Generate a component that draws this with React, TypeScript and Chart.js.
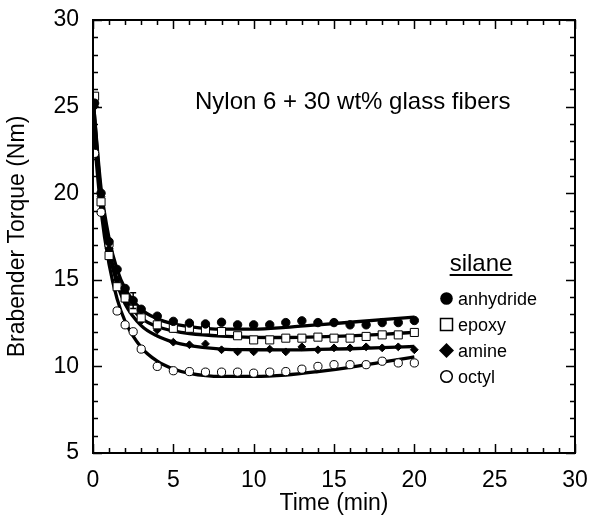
import React, { useEffect, useRef } from "react";
import { Chart, registerables } from "chart.js";
Chart.register(...registerables);

// measured points (time in min, torque in Nm)
const time = [0.1, 0.5, 1, 1.5, 2, 2.5, 3, 4, 5, 6, 7, 8, 9, 10, 11, 12, 13, 14, 15, 16, 17, 18, 19, 20];
const anhydride = [25.2, 20.0, 17.2, 15.6, 14.5, 13.8, 13.3, 12.9, 12.6, 12.5, 12.45, 12.55, 12.4, 12.4, 12.4, 12.53, 12.63, 12.53, 12.53, 12.4, 12.4, 12.53, 12.53, 12.65];
const anhydrideErr = [0, 0, 0, 0, 0, 0.45, 0, 0, 0, 0, 0, 0, 0, 0, 0, 0, 0, 0, 0, 0, 0, 0, 0, 0];
const epoxy = [25.6, 19.5, 16.4, 14.6, 13.95, 13.3, 12.8, 12.4, 12.2, 12.2, 12.11, 12.01, 11.77, 11.53, 11.53, 11.63, 11.63, 11.69, 11.63, 11.63, 11.73, 11.82, 11.82, 11.96];
const amine = [25.0, 19.8, 16.8, 15.0, 14.1, 13.4, 12.63, 12.1, 11.4, 11.25, 11.3, 10.96, 10.84, 10.84, 11.0, 10.84, 11.13, 10.96, 11.07, 11.07, 11.13, 11.07, 11.13, 10.96];
const octyl = [22.3, 18.9, 17.0, 13.2, 12.4, 12.0, 11.0, 10.0, 9.75, 9.7, 9.67, 9.67, 9.67, 9.61, 9.67, 9.7, 9.84, 10.0, 10.1, 10.1, 10.1, 10.3, 10.2, 10.2];

// fitted curves
const fitTime = [0, 0.5, 1, 1.5, 2, 3, 4, 5, 6, 8, 10, 12, 14, 16, 18, 20];
const anhydrideFit = [25.5, 20.3, 17.4, 15.6, 14.5, 13.3, 12.75, 12.45, 12.3, 12.15, 12.15, 12.25, 12.4, 12.55, 12.7, 12.85];
const epoxyFit = [25.6, 19.9, 16.8, 15.0, 13.9, 12.8, 12.3, 12.05, 11.9, 11.75, 11.68, 11.67, 11.7, 11.76, 11.85, 11.97];
const amineFit = [25.3, 19.7, 16.6, 14.8, 13.6, 12.35, 11.75, 11.4, 11.2, 11.0, 10.96, 10.95, 10.98, 11.02, 11.08, 11.15];
const octylFit = [24.0, 19.0, 15.9, 13.9, 12.6, 11.1, 10.3, 9.85, 9.6, 9.42, 9.42, 9.5, 9.7, 9.95, 10.25, 10.55];

const legendLabels = ["anhydride", "epoxy", "amine", "octyl"];
const legendTitle = "silane";
const chartNote = "Nylon 6 + 30 wt% glass fibers";
const xTitle = "Time (min)";
const yTitle = "Brabender Torque (Nm)";

const FONT = "'Liberation Sans', Arial, Helvetica, sans-serif";

const pts = (xs: number[], ys: number[]) => xs.map((x, i) => ({ x, y: ys[i] }));

export default function App() {
  const ref = useRef<HTMLCanvasElement>(null);
  useEffect(() => {
    document.body.style.margin = "0";
    const frame = {
      id: "frame",
      afterDatasetsDraw(chart: any) {
        const { ctx, chartArea: a, scales } = chart;
        const xs = scales.x, ys = scales.y;
        ctx.save();
        ctx.strokeStyle = "#000";
        // error bars
        ctx.lineWidth = 1.5;
        anhydrideErr.forEach((e, i) => {
          if (!e) return;
          const px = xs.getPixelForValue(time[i]);
          const y1 = ys.getPixelForValue(anhydride[i] - e);
          const y2 = ys.getPixelForValue(anhydride[i] + e);
          ctx.beginPath();
          ctx.moveTo(px, y1); ctx.lineTo(px, y2);
          ctx.moveTo(px - 3, y1); ctx.lineTo(px + 3, y1);
          ctx.moveTo(px - 3, y2); ctx.lineTo(px + 3, y2);
          ctx.stroke();
        });
        // frame
        ctx.lineWidth = 2;
        ctx.strokeRect(a.left, a.top, a.right - a.left, a.bottom - a.top);
        ctx.lineWidth = 1.5;
        ctx.beginPath();
        for (let v = 0; v <= 30; v++) {
          const len = v % 5 === 0 ? 9 : 5;
          const px = Math.round(xs.getPixelForValue(v)) + 0.5;
          ctx.moveTo(px, a.bottom); ctx.lineTo(px, a.bottom - len);
          ctx.moveTo(px, a.top); ctx.lineTo(px, a.top + len);
        }
        for (let v = 5; v <= 30; v++) {
          const len = v % 5 === 0 ? 9 : 5;
          const py = Math.round(ys.getPixelForValue(v)) + 0.5;
          ctx.moveTo(a.left, py); ctx.lineTo(a.left + len, py);
          ctx.moveTo(a.right, py); ctx.lineTo(a.right - len, py);
        }
        ctx.stroke();

        // note
        ctx.fillStyle = "#000";
        ctx.font = `24px ${FONT}`;
        ctx.textAlign = "left";
        ctx.textBaseline = "alphabetic";
        ctx.fillText(chartNote, 195, 109);

        // legend
        ctx.font = `24px ${FONT}`;
        ctx.textAlign = "center";
        ctx.fillText(legendTitle, 481, 271);
        const tw = ctx.measureText(legendTitle).width;
        ctx.lineWidth = 2;
        ctx.beginPath();
        ctx.moveTo(481 - tw / 2, 275); ctx.lineTo(481 + tw / 2, 275);
        ctx.stroke();
        ctx.font = `18px ${FONT}`;
        ctx.textAlign = "left";
        const rows = [305, 331, 357, 383];
        const mx = 446.5;
        legendLabels.forEach((lab, i) => {
          const cy = rows[i] - 6.5;
          ctx.lineWidth = 1.5;
          ctx.beginPath();
          if (i === 0) {
            ctx.arc(mx, cy, 6.3, 0, Math.PI * 2);
            ctx.fillStyle = "#000"; ctx.fill();
          } else if (i === 1) {
            ctx.rect(mx - 6, cy - 6, 12, 12);
            ctx.fillStyle = "#fff"; ctx.fill(); ctx.stroke();
          } else if (i === 2) {
            ctx.moveTo(mx, cy - 7.5); ctx.lineTo(mx + 7.5, cy); ctx.lineTo(mx, cy + 7.5); ctx.lineTo(mx - 7.5, cy); ctx.closePath();
            ctx.fillStyle = "#000"; ctx.fill();
          } else {
            ctx.arc(mx, cy, 5.8, 0, Math.PI * 2);
            ctx.fillStyle = "#fff"; ctx.fill(); ctx.stroke();
          }
          ctx.fillStyle = "#000";
          ctx.fillText(lab, 458, rows[i]);
        });
        ctx.restore();
      },
    };

    const lineDs = (ys: number[]) => ({
      type: "line" as const,
      data: pts(fitTime, ys),
      showLine: true,
      borderColor: "#000",
      borderWidth: 3.3,
      pointRadius: 0,
      cubicInterpolationMode: "monotone" as const,
      fill: false,
      order: 2,
    });

    const chart = new Chart(ref.current as HTMLCanvasElement, {
      type: "scatter",
      data: {
        datasets: [
          lineDs(anhydrideFit),
          lineDs(epoxyFit),
          lineDs(amineFit),
          lineDs(octylFit),
          { label: "anhydride", data: pts(time, anhydride), pointStyle: "circle", pointRadius: 4.2, backgroundColor: "#000", borderColor: "#000", borderWidth: 1, order: 1 },
          { label: "epoxy", data: pts(time, epoxy), pointStyle: "rect", pointRadius: 5.7, backgroundColor: "#fff", borderColor: "#000", borderWidth: 1, order: 1 },
          { label: "amine", data: pts(time, amine), pointStyle: "rectRot", pointRadius: 3.9, backgroundColor: "#000", borderColor: "#000", borderWidth: 1, order: 1 },
          { label: "octyl", data: pts(time, octyl), pointStyle: "circle", pointRadius: 4.1, backgroundColor: "#fff", borderColor: "#000", borderWidth: 1, order: 1 },
        ] as any,
      },
      options: {
        responsive: false,
        animation: false,
        events: [],
        layout: { padding: { top: 20, right: 15, left: 0, bottom: 0 } },
        plugins: { legend: { display: false }, tooltip: { enabled: false }, title: { display: false } },
        scales: {
          x: {
            type: "linear",
            min: 0,
            max: 30,
            afterFit: (s: any) => { s.height = 63; s.paddingLeft = 0; s.paddingRight = 0; },
            grid: { display: false, drawTicks: false },
            border: { display: false },
            ticks: { stepSize: 5, color: "#000", padding: 14, font: { family: FONT, size: 23 } },
            title: { display: true, text: xTitle, color: "#000", font: { family: FONT, size: 23, lineHeight: 1.05 }, padding: 0 },
          },
          y: {
            type: "linear",
            min: 5,
            max: 30,
            afterFit: (s: any) => { s.width = 93; s.paddingTop = 0; s.paddingBottom = 0; },
            grid: { display: false, drawTicks: false },
            border: { display: false },
            ticks: { stepSize: 5, color: "#000", padding: 14, font: { family: FONT, size: 23 } },
            title: { display: true, text: yTitle, color: "#000", font: { family: FONT, size: 23, lineHeight: 1 }, padding: { top: 6, bottom: 0 } },
          },
        },
      },
      plugins: [frame],
    } as any);
    return () => chart.destroy();
  }, []);
  return (
    <div style={{ width: 590, height: 516 }}>
      <canvas ref={ref} width={590} height={516} style={{ display: "block" }} />
    </div>
  );
}
